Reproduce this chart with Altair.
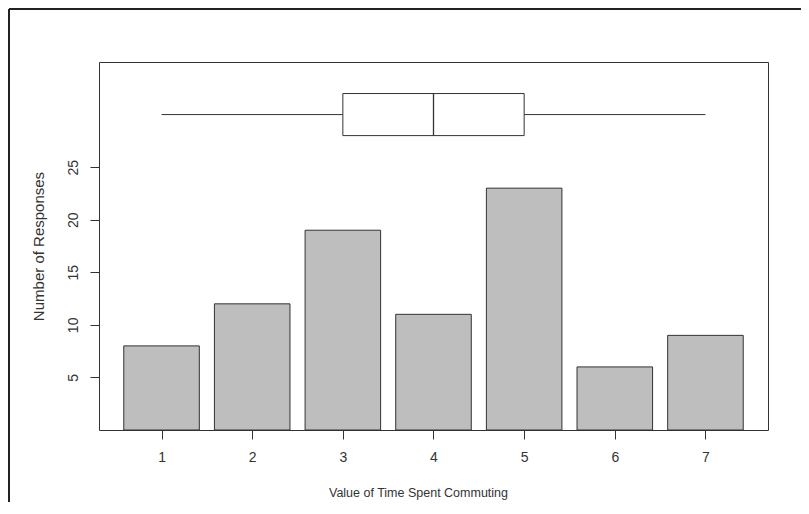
import altair as alt
import pandas as pd

# Data
values = [1, 2, 3, 4, 5, 6, 7]
counts = [8, 12, 19, 11, 23, 6, 9]

# Boxplot summary of the same responses
whisker_low = 1
q1 = 3
median = 4
q3 = 5
whisker_high = 7

y_ticks = [5, 10, 15, 20, 25]
x_ticks = [1, 2, 3, 4, 5, 6, 7]

FONT = "Liberation Sans"
INK = "#333333"

bars_df = pd.DataFrame({"value": values, "count": counts})
box_df = pd.DataFrame({"lo": [whisker_low], "q1": [q1], "med": [median],
                       "q3": [q3], "hi": [whisker_high]})

xs = alt.Scale(domain=[0.31, 7.69], nice=False, zero=False)
ys = alt.Scale(domain=[0, 35], nice=False, zero=True)

x_axis = alt.Axis(values=x_ticks, format="d", title="Value of Time Spent Commuting",
                  domain=False, grid=False, tickSize=9, tickColor=INK,
                  labelFont=FONT, labelFontSize=14, labelColor=INK, labelPadding=11,
                  labelBaseline="top",
                  titleFont=FONT, titleFontSize=12.5, titleFontWeight="normal",
                  titleColor=INK, titleX=319, titleY=66, titleAlign="center",
                  titleBaseline="alphabetic")
y_axis = alt.Axis(values=y_ticks, title="Number of Responses",
                  domain=False, grid=False, tickSize=9, tickColor=INK,
                  labelFont=FONT, labelFontSize=14, labelColor=INK, labelPadding=17,
                  labelAngle=270, labelAlign="center", labelBaseline="middle",
                  titleFont=FONT, titleFontSize=15, titleFontWeight="normal",
                  titleColor=INK, titleX=-61, titleY=184, titleAngle=270,
                  titleAlign="center", titleBaseline="middle")

bars = alt.Chart(bars_df).transform_calculate(
    x_lo="datum.value - 0.41667", x_hi="datum.value + 0.41667"
).mark_rect(fill="#bebebe", stroke=INK, strokeWidth=1).encode(
    x=alt.X("x_lo:Q", scale=xs, axis=x_axis),
    x2="x_hi:Q",
    y=alt.Y("count:Q", scale=ys, axis=y_axis),
    y2=alt.datum(0),
)

base_box = alt.Chart(box_df)
whisk_l = base_box.mark_rule(color=INK, strokeWidth=1).encode(
    x=alt.X("lo:Q", scale=xs), x2="q1:Q", y=alt.datum(30))
whisk_r = base_box.mark_rule(color=INK, strokeWidth=1).encode(
    x=alt.X("q3:Q", scale=xs), x2="hi:Q", y=alt.datum(30))
box = base_box.mark_rect(fill="white", stroke=INK, strokeWidth=1).encode(
    x=alt.X("q1:Q", scale=xs), x2="q3:Q", y=alt.datum(28), y2=alt.datum(32))
med = base_box.mark_rule(color=INK, strokeWidth=1.3).encode(
    x=alt.X("med:Q", scale=xs), y=alt.datum(28), y2=alt.datum(32))

# outer figure frame (top and left edges)
frame_top = base_box.mark_rule(color="#222222", strokeWidth=2).encode(
    x=alt.value(-90), x2=alt.value(720), y=alt.value(-53))
frame_left = base_box.mark_rule(color="#222222", strokeWidth=2).encode(
    x=alt.value(-90), y=alt.value(-53), y2=alt.value(470))

chart = alt.layer(bars, whisk_l, whisk_r, box, med, frame_top, frame_left).properties(
    width=669, height=368,
    padding={"left": 91, "top": 54, "right": 33, "bottom": 72},
    autosize=alt.AutoSizeParams(type="none"),
    background="white",
).configure_view(stroke=INK, strokeWidth=1)

chart.save("out.html", embed_options={"renderer": "svg", "actions": False})
